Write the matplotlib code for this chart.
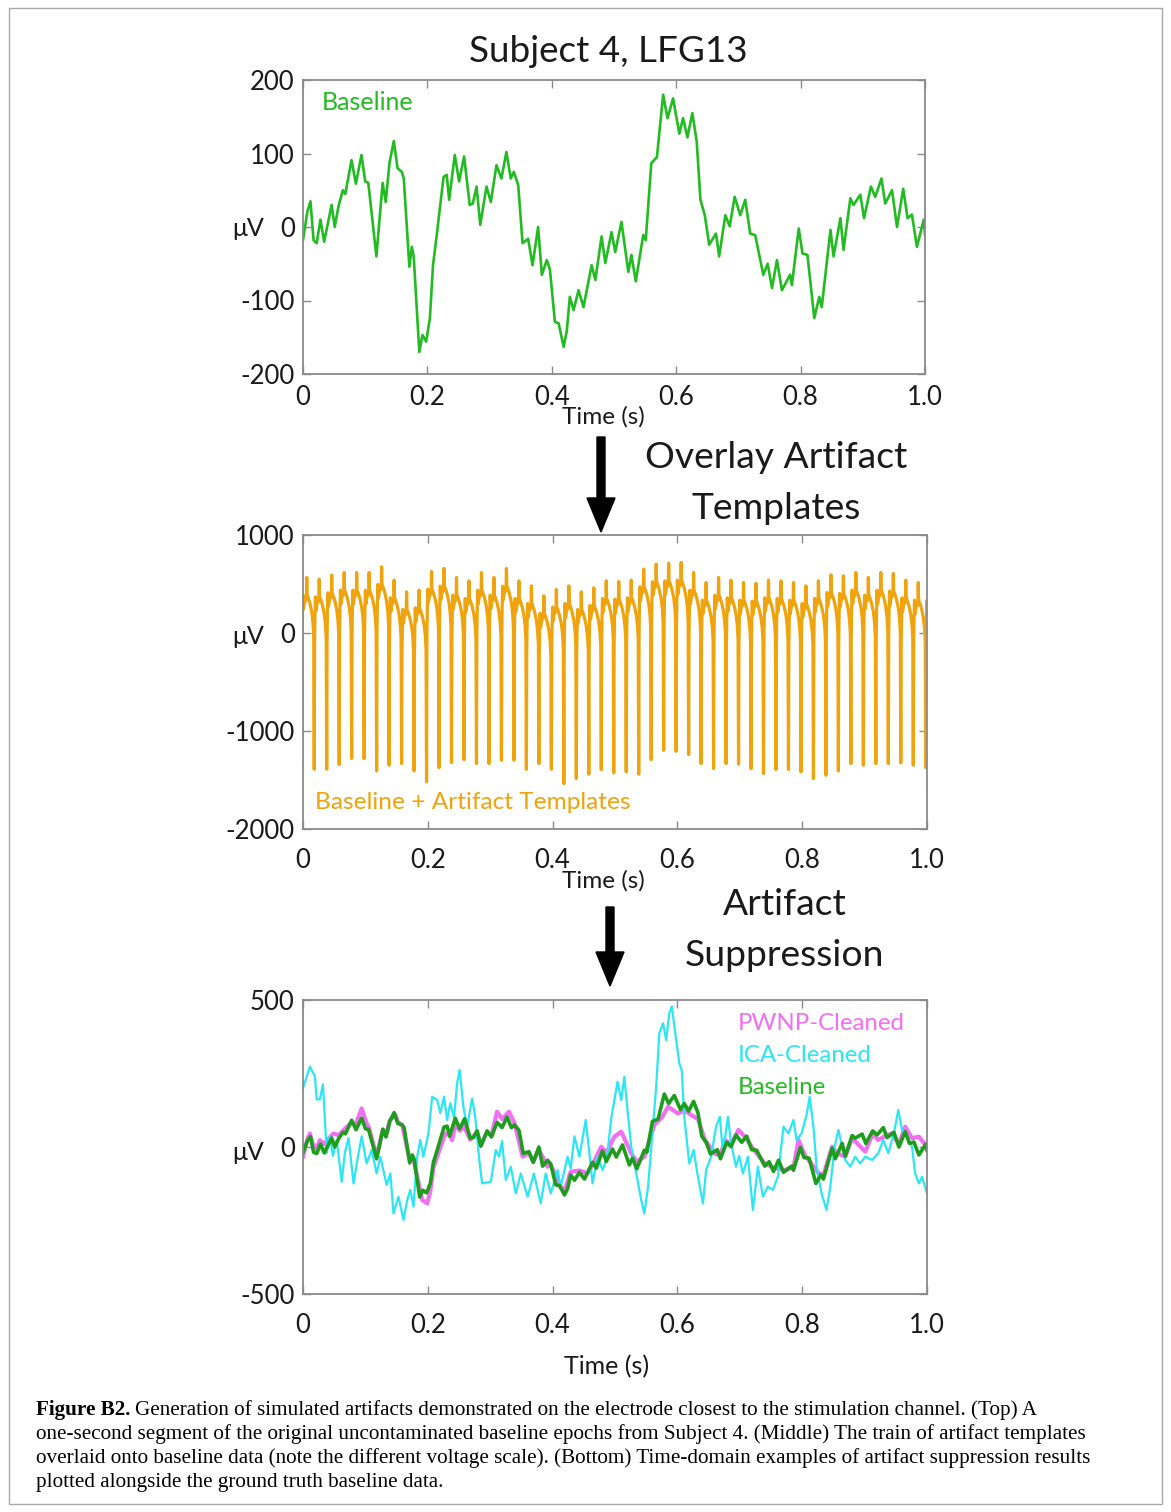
import matplotlib.pyplot as plt
from matplotlib.patches import FancyArrow, Rectangle

# Baseline LFP segment (uV), Subject 4, channel LFG13
base_t = [0.000, 0.007, 0.012, 0.017, 0.022, 0.028, 0.034, 0.046, 0.051, 0.057,
          0.064, 0.068, 0.078, 0.085, 0.094, 0.100, 0.105, 0.118, 0.128, 0.133,
          0.139, 0.146, 0.152, 0.159, 0.162, 0.171, 0.175, 0.178, 0.187, 0.192,
          0.198, 0.204, 0.209, 0.214, 0.226, 0.231, 0.235, 0.244, 0.251, 0.259,
          0.268, 0.273, 0.279, 0.285, 0.295, 0.302, 0.311, 0.319, 0.327, 0.334,
          0.339, 0.346, 0.353, 0.362, 0.369, 0.378, 0.384, 0.392, 0.397, 0.405,
          0.411, 0.419, 0.424, 0.429, 0.435, 0.443, 0.451, 0.464, 0.470, 0.480,
          0.486, 0.496, 0.502, 0.512, 0.523, 0.528, 0.535, 0.547, 0.551, 0.560,
          0.569, 0.579, 0.586, 0.595, 0.605, 0.611, 0.618, 0.626, 0.633, 0.639,
          0.646, 0.653, 0.664, 0.669, 0.679, 0.686, 0.694, 0.703, 0.711, 0.719,
          0.727, 0.740, 0.747, 0.754, 0.762, 0.770, 0.783, 0.786, 0.797, 0.803,
          0.811, 0.822, 0.830, 0.834, 0.848, 0.853, 0.864, 0.869, 0.880, 0.885,
          0.896, 0.902, 0.913, 0.920, 0.930, 0.936, 0.947, 0.955, 0.965, 0.972,
          0.979, 0.987, 0.998, 1.000]
base_uv = [-18, 21, 35, -18, -22, 10, -20, 30, 0, 28,
           50, 45, 91, 59, 98, 62, 60, -40, 60, 34,
           87, 117, 80, 75, 66, -54, -27, -40, -170, -147,
           -156, -124, -52, -18, 68, 71, 37, 98, 62, 96,
           30, 32, 55, 3, 55, 34, 84, 66, 102, 66,
           75, 57, -22, -16, -52, 0, -65, -45, -58, -129,
           -131, -163, -142, -95, -113, -86, -109, -52, -72, -13,
           -49, -7, -34, 7, -61, -38, -74, -11, -18, 87,
           95, 180, 148, 175, 127, 148, 122, 155, 116, 37,
           16, -24, -9, -40, 16, 1, 41, 16, 37, -9,
           -11, -65, -50, -83, -45, -86, -65, -79, -2, -36,
           -38, -124, -95, -109, -4, -40, 12, -31, 39, 30,
           44, 12, 55, 41, 66, 32, 50, 0, 52, 12,
           17, -27, 10, -11]

# Stimulation pulse onsets (s) with trough / peak of each contaminated cycle (uV)
pulse_onsets = [-0.002, 0.018, 0.038, 0.058, 0.078, 0.098, 0.118, 0.138, 0.158, 0.178,
                0.198, 0.218, 0.238, 0.258, 0.278, 0.298, 0.318, 0.338, 0.358, 0.378,
                0.398, 0.418, 0.438, 0.458, 0.478, 0.498, 0.518, 0.538, 0.558, 0.578,
                0.598, 0.618, 0.638, 0.658, 0.678, 0.698, 0.718, 0.738, 0.758, 0.778,
                0.798, 0.818, 0.838, 0.858, 0.878, 0.898, 0.918, 0.938, 0.958, 0.978,
                0.998]
pulse_troughs = [-1350, -1390, -1390, -1342, -1281, -1281, -1407, -1349, -1332, -1407,
                 -1519, -1373, -1322, -1292, -1332, -1332, -1298, -1298, -1390, -1332,
                 -1390, -1536, -1485, -1441, -1393, -1427, -1417, -1441, -1292, -1197,
                 -1207, -1241, -1332, -1383, -1332, -1339, -1383, -1434, -1393, -1393,
                 -1417, -1485, -1451, -1407, -1332, -1349, -1332, -1332, -1325, -1349,
                 -1373]
pulse_peaks = [566, 549, 590, 617, 617, 617, 675, 539, 420, 437,
               627, 658, 566, 532, 617, 566, 658, 532, 481, 380,
               444, 481, 420, 461, 532, 525, 539, 651, 702, 712,
               719, 617, 515, 566, 539, 515, 505, 539, 532, 515,
               481, 532, 593, 583, 617, 566, 617, 607, 539, 515,
               515]
# artifact waveform after the trough: time offset (s), level relative to the cycle peak (uV)
shape_dt = [0.0006, 0.0012, 0.0020, 0.0028, 0.0045, 0.0065, 0.0075, 0.0080, 0.0086,
            0.0100, 0.0130, 0.0160, 0.0180, 0.0192]
shape_dv = [-650, -380, -180, -320, -250, -230, -180, 0, -180,
            -200, -260, -350, -460, -600]

# Cleaned signals
pwnp_t = [0.000, 0.007, 0.011, 0.017, 0.022, 0.027, 0.034, 0.046, 0.049, 0.057,
          0.064, 0.076, 0.085, 0.094, 0.102, 0.105, 0.118, 0.128, 0.133, 0.139,
          0.148, 0.152, 0.159, 0.171, 0.175, 0.178, 0.191, 0.199, 0.204, 0.209,
          0.215, 0.228, 0.235, 0.239, 0.244, 0.251, 0.258, 0.268, 0.279, 0.285,
          0.295, 0.302, 0.311, 0.319, 0.330, 0.339, 0.352, 0.362, 0.369, 0.378,
          0.392, 0.397, 0.411, 0.419, 0.429, 0.443, 0.456, 0.464, 0.478, 0.486,
          0.499, 0.510, 0.526, 0.535, 0.547, 0.563, 0.575, 0.585, 0.601, 0.611,
          0.622, 0.633, 0.644, 0.660, 0.669, 0.676, 0.686, 0.698, 0.710, 0.719,
          0.740, 0.754, 0.772, 0.786, 0.794, 0.804, 0.826, 0.834, 0.848, 0.855,
          0.869, 0.880, 0.901, 0.913, 0.922, 0.935, 0.944, 0.955, 0.965, 0.976,
          0.987, 1.000]
pwnp_uv = [-33, 25, 46, 0, -5, 23, 10, 40, 46, 40,
           55, 80, 80, 131, 80, 70, -33, 60, 40, 90,
           109, 85, 75, -45, -33, -50, -180, -192, -150, -70,
           -33, 46, 40, 23, 80, 55, 70, 25, 50, 5,
           50, 40, 120, 95, 120, 80, -33, -20, -50, -10,
           -67, -60, -130, -150, -84, -80, -90, -60, 1, -20,
           35, 52, -22, -50, -33, 75, 100, 137, 114, 125,
           109, 95, 24, -22, -30, 24, 10, 58, 30, 1,
           -56, -70, -78, -70, 24, -27, -89, -95, 1, -20,
           -33, 30, -16, 45, 24, 40, 46, 10, 69, 30,
           35, 1]

ica_t = [0.000, 0.011, 0.019, 0.022, 0.027, 0.032, 0.038, 0.043, 0.048, 0.054,
         0.062, 0.067, 0.073, 0.081, 0.089, 0.094, 0.102, 0.110, 0.118, 0.124,
         0.134, 0.140, 0.145, 0.153, 0.161, 0.167, 0.172, 0.177, 0.183, 0.188,
         0.193, 0.201, 0.207, 0.215, 0.220, 0.226, 0.231, 0.236, 0.242, 0.247,
         0.251, 0.257, 0.263, 0.271, 0.276, 0.282, 0.287, 0.301, 0.309, 0.314,
         0.319, 0.325, 0.333, 0.341, 0.349, 0.360, 0.370, 0.381, 0.389, 0.397,
         0.408, 0.413, 0.424, 0.429, 0.435, 0.443, 0.453, 0.459, 0.464, 0.472,
         0.480, 0.487, 0.494, 0.504, 0.510, 0.515, 0.520, 0.526, 0.534, 0.542,
         0.547, 0.553, 0.560, 0.566, 0.571, 0.577, 0.582, 0.587, 0.591, 0.596,
         0.603, 0.607, 0.611, 0.619, 0.626, 0.632, 0.641, 0.646, 0.654, 0.662,
         0.668, 0.673, 0.681, 0.686, 0.694, 0.699, 0.705, 0.713, 0.721, 0.729,
         0.737, 0.745, 0.753, 0.761, 0.770, 0.778, 0.786, 0.791, 0.799, 0.807,
         0.812, 0.818, 0.823, 0.831, 0.839, 0.845, 0.852, 0.858, 0.863, 0.869,
         0.877, 0.885, 0.893, 0.901, 0.912, 0.922, 0.930, 0.938, 0.947, 0.954,
         0.960, 0.968, 0.976, 0.981, 0.987, 0.992, 1.000]
ica_uv = [200, 273, 241, 162, 162, 213, -21, 36, -30, 24,
          -118, -21, 31, -124, -21, 36, -56, -10, -90, -33,
          -129, -90, -226, -169, -248, -180, -146, -203, -33, 24,
          -33, 46, 171, 160, 115, 171, 92, 149, 100, 217,
          262, 137, 69, 165, 103, -33, -124, -118, -10, -33,
          20, -112, -67, -158, -90, -169, -90, -192, -90, -158,
          -78, -135, -33, -73, 36, -33, 92, -21, -124, -33,
          -78, -40, 98, 222, 160, 239, 126, 1, -90, -180,
          -226, -135, 46, 205, 387, 421, 364, 455, 478, 398,
          285, 260, 103, -56, -10, -90, -192, -78, -33, 69,
          103, -21, 103, 12, -67, -30, -90, -33, -214, -67,
          -169, -135, -146, -101, 69, 46, 92, 24, 46, 109,
          171, 69, -67, -158, -214, -135, 1, 58, 12, -44,
          -67, -33, -56, -33, -44, -21, 24, -21, 46, 126,
          58, 35, 1, -90, -124, -101, -158]

x_ticks = [0, 0.2, 0.4, 0.6, 0.8, 1.0]
x_ticklabels = ['0', '0.2', '0.4', '0.6', '0.8', '1.0']

W, H = 1171, 1512
plt.rcParams['font.family'] = ['Lato', 'DejaVu Sans']
fig = plt.figure(figsize=(W / 100, H / 100), dpi=100)
TXT = '#1a1a1a'


def box(left, top, right, bottom):
    return [left / W, 1 - bottom / H, (right - left) / W, (bottom - top) / H]


def ftext(x, y, s, **kw):
    kw.setdefault('va', 'center')
    kw.setdefault('color', TXT)
    return fig.text(x / W, 1 - y / H, s, **kw)


def style(ax, yticks, pad):
    ax.set_xlim(0, 1)
    ax.set_ylim(yticks[0], yticks[-1])
    ax.set_xticks(x_ticks)
    ax.set_xticklabels(x_ticklabels)
    ax.set_yticks(yticks)
    ax.set_yticklabels(['0' if v == 0 else str(v) for v in yticks])
    ax.tick_params(direction='in', top=True, right=True, length=6, width=1,
                   color='#8a8a8a', labelsize=18.5, labelcolor=TXT)
    ax.tick_params(axis='x', pad=pad)
    ax.tick_params(axis='y', pad=6)
    for sp in ax.spines.values():
        sp.set_color('#8a8a8a')
        sp.set_linewidth(1.3)


def down_arrow(x, y0, y1):
    fig.add_artist(FancyArrow(x / W, 1 - y0 / H, 0, -(y1 - y0) / H,
                              width=8 / W, head_width=28 / W, head_length=34 / H,
                              length_includes_head=True, color='black',
                              transform=fig.transFigure))


# top: baseline
ax1 = fig.add_axes(box(303, 80, 925, 374))
ax1.plot(base_t, base_uv, color='#22bb22', lw=1.9)
style(ax1, [-200, -100, 0, 100, 200], 8)
ftext(608, 52, 'Subject 4, LFG13', ha='center', fontsize=26.6)
ftext(322, 103, 'Baseline', ha='left', fontsize=18, color='#22bb22')
ftext(603, 417, 'Time (s)', ha='center', fontsize=17.5)
ftext(248, 228, 'μV', ha='center', fontsize=18)

down_arrow(601, 437, 532)
ftext(776, 458, 'Overlay Artifact', ha='center', fontsize=26.8)
ftext(776, 508, 'Templates', ha='center', fontsize=26.8)

# middle: baseline with the artifact template train
mid_t, mid_uv = [], []
for onset, low, high in zip(pulse_onsets, pulse_troughs, pulse_peaks):
    mid_t.append(onset)
    mid_uv.append(low)
    for dt, dv in zip(shape_dt, shape_dv):
        mid_t.append(onset + dt)
        mid_uv.append(high + dv)

ax2 = fig.add_axes(box(303, 535, 927, 829))
ax2.plot(mid_t, mid_uv, color='#efa30c', lw=2.3)
style(ax2, [-2000, -1000, 0, 1000], 14)
ftext(315, 802, 'Baseline + Artifact Templates', ha='left', fontsize=17.6,
      color='#efa30c')
ftext(603, 881, 'Time (s)', ha='center', fontsize=17.5)
ftext(248, 637, 'μV', ha='center', fontsize=18)

down_arrow(610, 907, 986)
ftext(785, 905, 'Artifact', ha='center', fontsize=26.8)
ftext(785, 955, 'Suppression', ha='center', fontsize=26.8)

# bottom: cleaned signals against ground truth
ax3 = fig.add_axes(box(303, 1000, 927, 1294))
ax3.plot(pwnp_t, pwnp_uv, color='#f46ef4', lw=3.0)
ax3.plot(ica_t, ica_uv, color='#2be6f6', lw=1.6)
ax3.plot(base_t, base_uv, color='#1c9e1c', lw=2.6)
style(ax3, [-500, 0, 500], 14)
ftext(738, 1023, 'PWNP-Cleaned', ha='left', fontsize=17.3, color='#f46ef4')
ftext(738, 1056, 'ICA-Cleaned', ha='left', fontsize=17.3, color='#2be6f6')
ftext(738, 1088, 'Baseline', ha='left', fontsize=17.3, color='#22bb22')
ftext(607, 1367, 'Time (s)', ha='center', fontsize=18)
ftext(248, 1152, 'μV', ha='center', fontsize=18)

# caption
cap = dict(fontsize=15.2, family=['Liberation Serif', 'DejaVu Serif'], color='black')
head = ftext(36, 1410, 'Figure B2.', ha='left', fontweight='bold', **cap)
fig.canvas.draw()
bb = head.get_window_extent(fig.canvas.get_renderer())
ftext(bb.x1 + 5, 1410, 'Generation of simulated artifacts demonstrated on the electrode '
      'closest to the stimulation channel. (Top) A', ha='left', **cap)
ftext(36, 1434, 'one-second segment of the original uncontaminated baseline epochs from '
      'Subject 4. (Middle) The train of artifact templates', ha='left', **cap)
ftext(36, 1458, 'overlaid onto baseline data (note the different voltage scale). (Bottom) '
      'Time-domain examples of artifact suppression results', ha='left', **cap)
ftext(36, 1482, 'plotted alongside the ground truth baseline data.', ha='left', **cap)

fig.add_artist(Rectangle((9 / W, 8 / H), 1153 / W, 1496 / H, fill=False,
                         edgecolor='#a8a8a8', lw=1, transform=fig.transFigure))

fig.savefig('out.png', dpi=100)
